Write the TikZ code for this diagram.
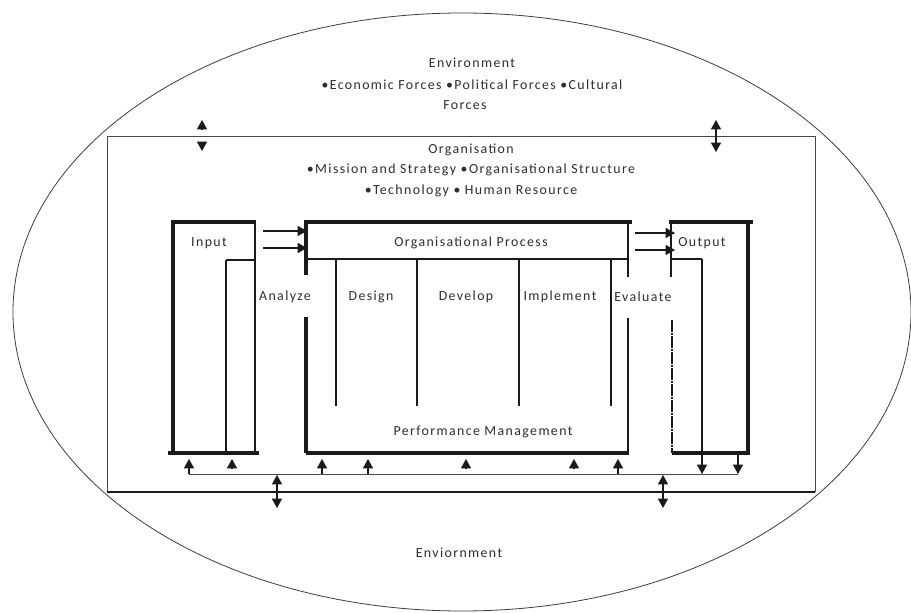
\documentclass[tikz,border=0pt]{standalone}
\usepackage{fontspec}
\setmainfont{Carlito}[LetterSpace=10.0]
\usetikzlibrary{arrows.meta}
\definecolor{txt}{HTML}{2E2E2E}
\definecolor{ln}{HTML}{1A1A1A}
\begin{document}
\begin{tikzpicture}[x=0.75pt,y=-0.75pt,
  lbl/.style={inner sep=0pt,text=txt,font=\fontsize{10.4}{12}\selectfont,align=center},
  thickln/.style={draw=ln,line width=3pt},
  midln/.style={draw=ln,line width=1.5pt},
  thinln/.style={draw=ln,line width=0.8pt},
  hairln/.style={draw=ln!80,line width=0.7pt},
  tip/.style={-{Triangle[width=7.5pt,length=7pt]},draw=ln,line width=0.9pt},
  dtip/.style={{Triangle[width=7.5pt,length=7pt]}-{Triangle[width=7.5pt,length=7pt]},draw=ln,line width=0.9pt}]
\useasboundingbox (0,0) rectangle (911,613);
\fill[white] (0,0) rectangle (911,613);
% environment ellipse
\draw[draw=ln!85,line width=0.6pt] (462,312) ellipse [x radius=336.75pt, y radius=224.25pt];
% organisation rectangle
\draw[hairln] (107,136) -- (815,136) -- (815,492);
\draw[hairln] (107,136) -- (107,492);
\draw[draw=ln,line width=1.3pt] (107,492) -- (815,492);
% texts
\node[lbl] (env) at (472,63) {Environment};
\node[lbl] (envf) at (472,85) {•Economic Forces •Political Forces •Cultural};
\node[lbl] (envf2) at (465,105) {Forces};
\node[lbl] (org) at (471,150) {Organisation};
\node[lbl] (orgf) at (471,170) {•Mission and Strategy •Organisational Structure};
\node[lbl] (orgf2) at (471,191) {•Technology • Human Resource};
\node[lbl] (input) at (209,243) {Input};
\node[lbl] (proc) at (471,243) {Organisational Process};
\node[lbl] (output) at (702,243) {Output};
\node[lbl] (analyze) at (285,297) {Analyze};
\node[lbl] (design) at (371,297) {Design};
\node[lbl] (develop) at (466,297) {Develop};
\node[lbl] (implement) at (560,297) {Implement};
\node[lbl] (evaluate) at (643,297) {Evaluate};
\node[lbl] (perf) at (483,432) {Performance Management};
\node[lbl] (env2) at (459,553) {Enviornment};
% input box
\draw[thickln] (171,222) -- (256,222);
\draw[thickln] (173,222) -- (173,455);
\draw[thickln] (168,453) -- (259,453);
\draw[thinln] (255,222) -- (255,453);
\draw[thinln] (226,260) -- (256,260);
\draw[midln] (226,260) -- (226,453);
% process box
\draw[thickln] (304,222) -- (632,222);
\draw[thickln] (306,222) -- (306,275);
\draw[thinln] (628,222) -- (628,277);
\draw[thinln] (306,259) -- (628,259);
\draw[thickln] (306,317) -- (306,453);
\draw[thickln] (306,453) -- (629,453);
\draw[midln] (628,318) -- (628,454);
\foreach \xx in {336,417,519,611} \draw[thinln] (\xx,259) -- (\xx,406);
% output box
\draw[thickln] (669,222) -- (753,222);
\draw[thickln] (748,222) -- (748,455);
\draw[thickln] (672,453) -- (750,453);
\draw[thinln] (671,222) -- (671,277);
\draw[thinln,dash pattern=on 9pt off 1pt on 1pt off 1pt] (672,320) -- (672,453);
\draw[thinln] (671,259) -- (702,259);
\draw[thinln] (702,259) -- (702,453);
% coordinates for connectors
\coordinate (ia1) at (263,231); \coordinate (ib1) at (307,231);
\coordinate (ia2) at (263,248); \coordinate (ib2) at (307,248);
\coordinate (oa1) at (635,233); \coordinate (ob1) at (675,233);
\coordinate (oa2) at (635,250); \coordinate (ob2) at (675,250);
\draw[tip] (ia1) -- (ib1);
\draw[tip] (ia2) -- (ib2);
\draw[tip] (oa1) -- (ob1);
\draw[tip] (oa2) -- (ob2);
% top exchange arrows
\coordinate (tl1) at (202,129); \coordinate (tl2) at (202,120);
\coordinate (tl3) at (202,142); \coordinate (tl4) at (202,151);
\draw[tip] (tl1) -- (tl2);
\draw[tip] (tl3) -- (tl4);
\coordinate (tr1) at (716,120); \coordinate (tr2) at (716,152);
\draw[dtip] (tr1) -- (tr2);
% feedback line
\coordinate (fbL) at (189,474); \coordinate (fbR) at (738,474);
\draw[hairln] (fbL) -- (fbR);
\foreach \xx in {189,322,368,618} \draw[tip] (\xx,474) -- (\xx,459);
\foreach \xx in {232,466,574} \draw[tip] (\xx,468) -- (\xx,459);
\foreach \xx in {702,738} \draw[tip] (\xx,453) -- (\xx,474);
% bottom exchange arrows
\foreach \xx in {277,663} \draw[dtip] (\xx,475) -- (\xx,508);
\end{tikzpicture}
\end{document}
